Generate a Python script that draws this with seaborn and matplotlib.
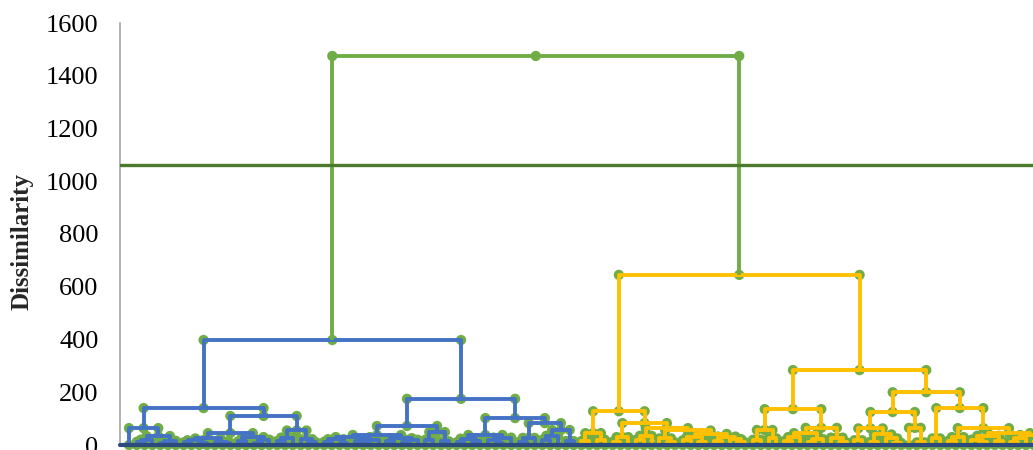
import numpy as np
import pandas as pd
import matplotlib
matplotlib.use("Agg")
import matplotlib.pyplot as plt
import seaborn as sns

# Dendrogram data: height at which each pair of neighbouring leaves joins,
# in leaf order. The tree is rebuilt by splitting at the highest join.
blue_gaps = [64, 12, 20, 34, 8, 16, 140, 10, 18, 6, 25, 12, 8, 45, 14, 30, 9, 20,
             110, 15, 28, 55, 22, 10, 398, 12, 22, 8, 30, 14, 5, 18, 38, 16, 26,
             10, 20, 72, 20, 49, 14, 175, 10, 24, 15, 38, 18, 7, 28, 102, 12, 27,
             83, 20, 35, 57, 15]
yellow_gaps = [15, 45, 20, 128, 12, 30, 83, 20, 35, 64, 25, 10, 55, 18, 30, 12, 42,
               14, 32, 22, 10, 645, 20, 57, 25, 136, 15, 30, 45, 12, 22, 65, 28, 10,
               284, 18, 63, 12, 40, 25, 8, 125, 65, 10, 200, 25, 140, 15, 30, 64, 20,
               10, 35, 15, 45, 12, 28, 38, 18, 8]
root_height = 1475
cut_level = 1061
y_ticks = [0, 200, 400, 600, 800, 1000, 1200, 1400, 1600]
y_label = "Dissimilarity"

colors = {"blue": "#4472C4", "yellow": "#FFC000", "root": "#70AD47"}
marker_color = "#70AD47"
cut_color = "#4C7A2C"
base_color = "#2C4B7C"

gaps = blue_gaps + [root_height] + yellow_gaps
n_leaves = len(gaps) + 1
n_blue = len(blue_gaps) + 1

link_rows = []
point_rows = []


def build(lo, hi):
    """Return (x, height) of the node covering leaves lo..hi and record its link."""
    if lo == hi:
        point_rows.append((lo + 1.0, 0.0))
        return lo + 1.0, 0.0
    k = lo + int(np.argmax(gaps[lo:hi]))
    xl, hl = build(lo, k)
    xr, hr = build(k + 1, hi)
    h = float(gaps[k])
    xc = (xl + xr) / 2
    if hi < n_blue:
        grp = "blue"
    elif lo >= n_blue:
        grp = "yellow"
    else:
        grp = "root"
    link_id = len(set(r[0] for r in link_rows))
    verts = [(xl, hl), (xl, h), (xc, h), (xr, h), (xr, hr)]
    for order, (vx, vy) in enumerate(verts):
        link_rows.append((link_id, order, vx, vy, grp))
    point_rows.extend(verts)
    return xc, h


build(0, n_leaves - 1)
links = pd.DataFrame(link_rows, columns=["link", "order", "x", "y", "group"])
points = pd.DataFrame(point_rows, columns=["x", "y"]).drop_duplicates()

sns.set_style("white")
plt.rcParams["font.family"] = ["Liberation Serif", "DejaVu Serif"]

W, H = 1033, 450
fig = plt.figure(figsize=(W / 100, H / 100), dpi=100)
px = 7.8           # horizontal pixels per leaf
left_px, bottom_px, top_px = 120, 5, 427
ax_w_px = 940
ax = fig.add_axes([left_px / W, bottom_px / H, ax_w_px / W, (top_px - bottom_px) / H])
x0 = 1 - 9 / px
ax.set_xlim(x0, x0 + ax_w_px / px)
ax.set_ylim(0, 1600)

sns.scatterplot(data=points, x="x", y="y", color=marker_color, s=55,
                edgecolor="none", linewidth=0, zorder=2, clip_on=False, ax=ax,
                legend=False)
sns.lineplot(data=links, x="x", y="y", units="link", hue="group", palette=colors,
             estimator=None, sort=False, lw=2.8, zorder=3, legend=False, ax=ax,
             solid_capstyle="butt")
ax.axhline(cut_level, color=cut_color, lw=2.4, zorder=4)
ax.axhline(0, color=base_color, lw=3.0, zorder=5, clip_on=False)

for s in ["top", "right", "bottom"]:
    ax.spines[s].set_visible(False)
ax.spines["left"].set_color("#A6A6A6")
ax.spines["left"].set_linewidth(1.2)
ax.set_xticks([])
ax.set_yticks(y_ticks)
ax.set_yticklabels([str(t) for t in y_ticks])
ax.tick_params(axis="y", direction="inout", length=11, width=1.0,
               color="#A6A6A6", labelsize=19, pad=10, labelcolor="black")
ax.set_xlabel("")
ax.set_ylabel("")
fig.text(22 / W, 1 - 242 / H, y_label, rotation=90, ha="center", va="center",
         fontsize=18, fontweight="bold")

fig.savefig("out.png", dpi=100)
